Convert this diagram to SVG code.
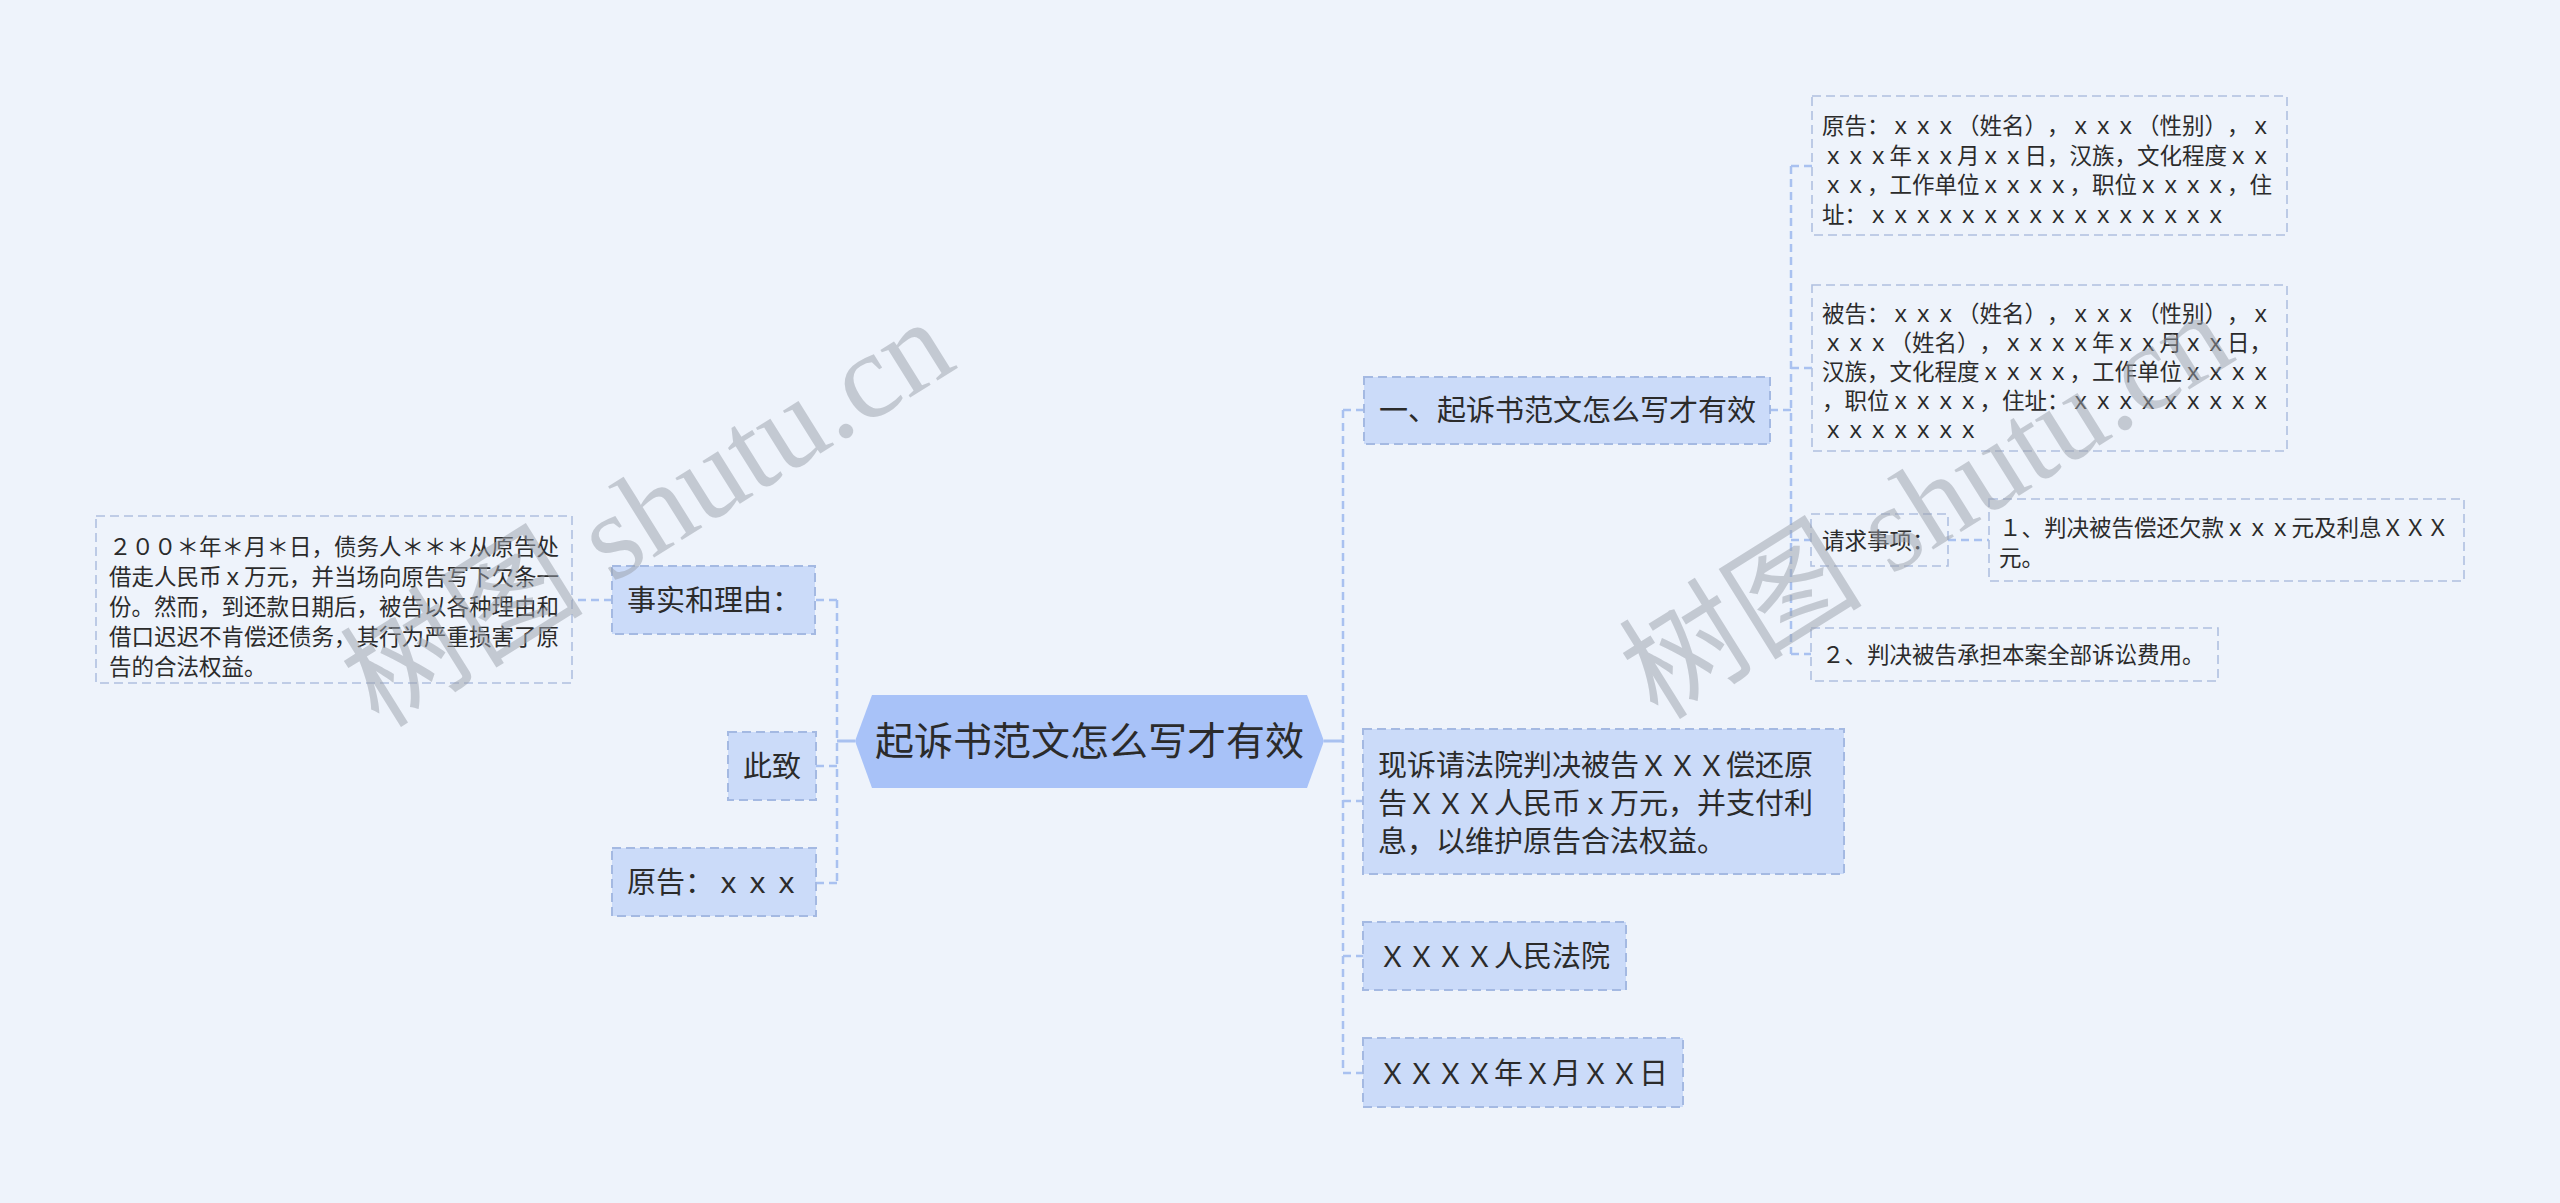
<svg xmlns="http://www.w3.org/2000/svg" width="2560" height="1203" viewBox="0 0 2560 1203">
<style>
text{font-family:"Noto Sans CJK SC","Noto Sans",sans-serif;fill:#2b2b2b;text-spacing-trim:space-all;}
.root{font-size:39px;text-anchor:middle;}
.sec{font-size:29px;}
.det{font-size:22.5px;}
.box{fill:#cbdbf9;stroke:#a4b9e2;stroke-width:2;stroke-dasharray:9 5;}
.dbox{fill:none;stroke:#b0c0e0;stroke-width:1.6;stroke-dasharray:9 5;}
.con{fill:none;stroke:#a9c1f0;stroke-width:2.5;stroke-dasharray:8 5;}
.solid{fill:none;stroke:#a9c1f0;stroke-width:3;}
.wm{font-family:"Liberation Serif","Noto Sans CJK SC",serif;font-size:122px;fill:#9aa0aa;opacity:0.5;}
</style>
<rect width="2560" height="1203" fill="#eef3fb"/>
<g id="connectors">
<path class="solid" d="M855 741H837"/>
<path class="con" d="M837 600V883"/>
<path class="con" d="M816 600H837M816 766H837M816 883H837"/>
<path class="con" d="M612 600H572"/>
<path class="solid" d="M1324 741H1343"/>
<path class="con" d="M1343 410V1073"/>
<path class="con" d="M1343 410H1364M1343 801H1363M1343 956H1363M1343 1073H1363"/>
<path class="con" d="M1770 410H1791"/>
<path class="con" d="M1791 166V654"/>
<path class="con" d="M1791 166H1812M1791 368H1812M1791 540H1811M1791 654H1811"/>
<path class="con" d="M1948 540H1989"/>
</g>
<g id="root">
<polygon points="855,741 872,695 1307,695 1324,741 1307,788 872,788" fill="#a8c2f8"/>
<text class="root" x="1089.5" y="755">起诉书范文怎么写才有效</text>
</g>
<g id="n_shishi">
<rect class="box" x="612" y="566" width="203" height="68"/>
<text class="sec" x="627" y="611">事实和理由：</text>
</g>
<g id="n_shishi_detail">
<rect class="dbox" x="96" y="516" width="476" height="167"/>
<text class="det"><tspan x="109" y="554.5">２００＊年＊月＊日，债务人＊＊＊从原告处</tspan><tspan x="109" y="584.5">借走人民币ｘ万元，并当场向原告写下欠条一</tspan><tspan x="109" y="614.5">份。然而，到还款日期后，被告以各种理由和</tspan><tspan x="109" y="644.5">借口迟迟不肯偿还债务，其行为严重损害了原</tspan><tspan x="109" y="674.5">告的合法权益。</tspan></text>
</g>
<g id="n_cizhi">
<rect class="box" x="728" y="732" width="88" height="68"/>
<text class="sec" x="743" y="777">此致</text>
</g>
<g id="n_yuangao_left">
<rect class="box" x="612" y="848" width="204" height="68"/>
<text class="sec" x="627" y="893">原告：ｘｘｘ</text>
</g>
<g id="n_yi">
<rect class="box" x="1364" y="377" width="406" height="67"/>
<text class="sec" x="1379" y="421">一、起诉书范文怎么写才有效</text>
</g>
<g id="n_yuangao_detail">
<rect class="dbox" x="1812" y="96" width="475" height="139"/>
<text class="det"><tspan x="1822" y="133.5">原告：ｘｘｘ（姓名），ｘｘｘ（性别），ｘ</tspan><tspan x="1822" y="163.5">ｘｘｘ年ｘｘ月ｘｘ日，汉族，文化程度ｘｘ</tspan><tspan x="1822" y="193">ｘｘ，工作单位ｘｘｘｘ，职位ｘｘｘｘ，住</tspan><tspan x="1822" y="222.5">址：ｘｘｘｘｘｘｘｘｘｘｘｘｘｘｘｘ</tspan></text>
</g>
<g id="n_beigao">
<rect class="dbox" x="1812" y="285" width="475" height="166"/>
<text class="det"><tspan x="1822" y="321.5">被告：ｘｘｘ（姓名），ｘｘｘ（性别），ｘ</tspan><tspan x="1822" y="350.5">ｘｘｘ（姓名），ｘｘｘｘ年ｘｘ月ｘｘ日，</tspan><tspan x="1822" y="379.5">汉族，文化程度ｘｘｘｘ，工作单位ｘｘｘｘ</tspan><tspan x="1822" y="408.5">，职位ｘｘｘｘ，住址：ｘｘｘｘｘｘｘｘｘ</tspan><tspan x="1822" y="437.5">ｘｘｘｘｘｘｘ</tspan></text>
</g>
<g id="n_qingqiu">
<rect class="dbox" x="1811" y="514" width="137" height="52"/>
<text class="det" x="1822" y="548.5">请求事项：</text>
</g>
<g id="n_qingqiu1">
<rect class="dbox" x="1989" y="499" width="475" height="82"/>
<text class="det"><tspan x="1999" y="535.5">１、判决被告偿还欠款ｘｘｘ元及利息ＸＸＸ</tspan><tspan x="1999" y="565.5">元。</tspan></text>
</g>
<g id="n_qingqiu2">
<rect class="dbox" x="1811" y="628" width="407" height="53"/>
<text class="det" x="1822" y="662.5">２、判决被告承担本案全部诉讼费用。</text>
</g>
<g id="n_xiansu">
<rect class="box" x="1363" y="729" width="481" height="145"/>
<text class="sec"><tspan x="1378" y="776">现诉请法院判决被告ＸＸＸ偿还原</tspan><tspan x="1378" y="814">告ＸＸＸ人民币ｘ万元，并支付利</tspan><tspan x="1378" y="852">息，以维护原告合法权益。</tspan></text>
</g>
<g id="n_fayuan">
<rect class="box" x="1363" y="922" width="263" height="68"/>
<text class="sec" x="1378" y="967">ＸＸＸＸ人民法院</text>
</g>
<g id="n_date">
<rect class="box" x="1363" y="1038" width="320" height="69"/>
<text class="sec" x="1378" y="1084">ＸＸＸＸ年Ｘ月ＸＸ日</text>
</g>
<g id="watermark">
<text class="wm" transform="translate(648 514) rotate(-32)" text-anchor="middle" y="40">树图 shutu.cn</text>
<text class="wm" transform="translate(1927 506) rotate(-32)" text-anchor="middle" y="40">树图 shutu.cn</text>
</g>
</svg>
